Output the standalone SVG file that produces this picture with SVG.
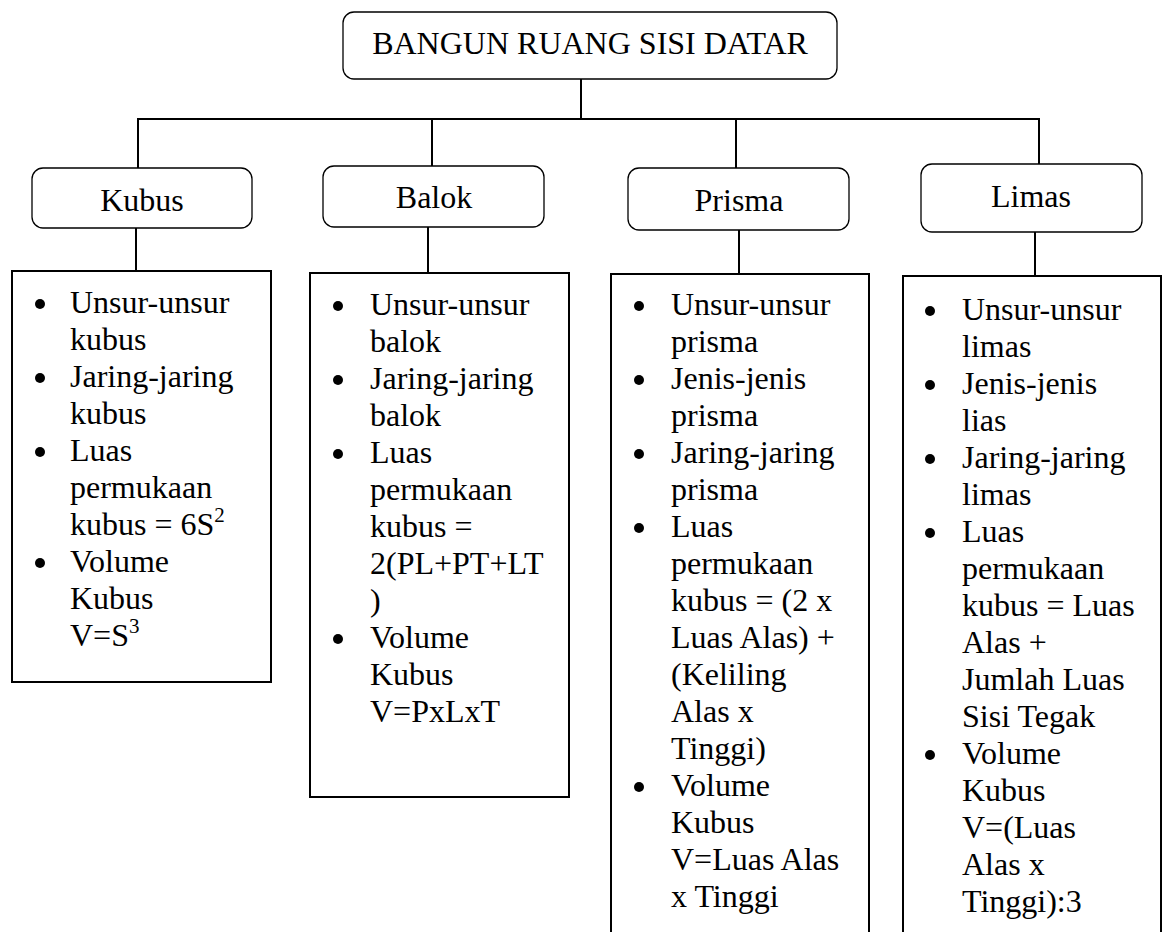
<svg xmlns="http://www.w3.org/2000/svg" width="1162" height="932" viewBox="0 0 1162 932">
<style>
  .rbox{fill:#fff;stroke:#000;stroke-width:1.3}
  .cbox{fill:#fff;stroke:#000;stroke-width:2}
  .conn{stroke:#000;stroke-width:2;fill:none}
  text{font-family:"Liberation Serif","Times New Roman",serif;font-size:32px;fill:#000}
  .c{text-anchor:middle}
  .sup{font-size:21px}
</style>
<rect width="1162" height="932" fill="#fff"/>
<g id="connectors">
  <line class="conn" x1="581" y1="79" x2="581" y2="119"/>
  <line class="conn" x1="137" y1="119" x2="1040" y2="119"/>
  <line class="conn" x1="138" y1="119" x2="138" y2="168"/>
  <line class="conn" x1="432" y1="119" x2="432" y2="166"/>
  <line class="conn" x1="736" y1="119" x2="736" y2="168"/>
  <line class="conn" x1="1039" y1="119" x2="1039" y2="164"/>
  <line class="conn" x1="136" y1="228" x2="136" y2="271"/>
  <line class="conn" x1="428" y1="227" x2="428" y2="273"/>
  <line class="conn" x1="739" y1="230" x2="739" y2="274"/>
  <line class="conn" x1="1035" y1="232" x2="1035" y2="276"/>
</g>
<g id="root">
  <rect class="rbox" x="343" y="12" width="494" height="67" rx="11"/>
  <text class="c" x="590" y="54">BANGUN RUANG SISI DATAR</text>
</g>
<g id="kubus">
  <rect class="rbox" x="32" y="168" width="220" height="60" rx="11"/>
  <text class="c" x="142" y="211">Kubus</text>
</g>
<g id="balok">
  <rect class="rbox" x="323" y="166" width="221" height="61" rx="11"/>
  <text class="c" x="434" y="208">Balok</text>
</g>
<g id="prisma">
  <rect class="rbox" x="628" y="168" width="221" height="62" rx="11"/>
  <text class="c" x="739" y="211">Prisma</text>
</g>
<g id="limas">
  <rect class="rbox" x="921" y="164" width="221" height="68" rx="11"/>
  <text class="c" x="1031" y="207">Limas</text>
</g>
<g id="kubus-detail">
  <rect class="cbox" x="12" y="271" width="259" height="411"/>
  <circle cx="40" cy="304" r="5"/><circle cx="40" cy="378" r="5"/><circle cx="40" cy="452" r="5"/><circle cx="40" cy="563" r="5"/>
  <text x="70" y="313">Unsur-unsur</text>
  <text x="70" y="350">kubus</text>
  <text x="70" y="387">Jaring-jaring</text>
  <text x="70" y="424">kubus</text>
  <text x="70" y="461">Luas</text>
  <text x="70" y="498">permukaan</text>
  <text x="70" y="535">kubus = 6S<tspan class="sup" dy="-13">2</tspan></text>
  <text x="70" y="572">Volume</text>
  <text x="70" y="609">Kubus</text>
  <text x="70" y="646">V=S<tspan class="sup" dy="-13">3</tspan></text>
</g>
<g id="balok-detail">
  <rect class="cbox" x="310" y="273" width="259" height="524"/>
  <circle cx="338" cy="306" r="5"/><circle cx="338" cy="380" r="5"/><circle cx="338" cy="454" r="5"/><circle cx="338" cy="639" r="5"/>
  <text x="370" y="315">Unsur-unsur</text>
  <text x="370" y="352">balok</text>
  <text x="370" y="389">Jaring-jaring</text>
  <text x="370" y="426">balok</text>
  <text x="370" y="463">Luas</text>
  <text x="370" y="500">permukaan</text>
  <text x="370" y="537">kubus =</text>
  <text x="370" y="574">2(PL+PT+LT</text>
  <text x="370" y="611">)</text>
  <text x="370" y="648">Volume</text>
  <text x="370" y="685">Kubus</text>
  <text x="370" y="722">V=PxLxT</text>
</g>
<g id="prisma-detail">
  <rect class="cbox" x="611" y="274" width="258" height="680"/>
  <circle cx="639" cy="306" r="5"/><circle cx="639" cy="380" r="5"/><circle cx="639" cy="454" r="5"/><circle cx="639" cy="528" r="5"/><circle cx="639" cy="787" r="5"/>
  <text x="671" y="315">Unsur-unsur</text>
  <text x="671" y="352">prisma</text>
  <text x="671" y="389">Jenis-jenis</text>
  <text x="671" y="426">prisma</text>
  <text x="671" y="463">Jaring-jaring</text>
  <text x="671" y="500">prisma</text>
  <text x="671" y="537">Luas</text>
  <text x="671" y="574">permukaan</text>
  <text x="671" y="611">kubus = (2 x</text>
  <text x="671" y="648">Luas Alas) +</text>
  <text x="671" y="685">(Keliling</text>
  <text x="671" y="722">Alas x</text>
  <text x="671" y="759">Tinggi)</text>
  <text x="671" y="796">Volume</text>
  <text x="671" y="833">Kubus</text>
  <text x="671" y="870">V=Luas Alas</text>
  <text x="671" y="907">x Tinggi</text>
</g>
<g id="limas-detail">
  <rect class="cbox" x="903" y="276" width="258" height="680"/>
  <circle cx="930" cy="311" r="5"/><circle cx="930" cy="385" r="5"/><circle cx="930" cy="459" r="5"/><circle cx="930" cy="533" r="5"/><circle cx="930" cy="755" r="5"/>
  <text x="962" y="320">Unsur-unsur</text>
  <text x="962" y="357">limas</text>
  <text x="962" y="394">Jenis-jenis</text>
  <text x="962" y="431">lias</text>
  <text x="962" y="468">Jaring-jaring</text>
  <text x="962" y="505">limas</text>
  <text x="962" y="542">Luas</text>
  <text x="962" y="579">permukaan</text>
  <text x="962" y="616">kubus = Luas</text>
  <text x="962" y="653">Alas +</text>
  <text x="962" y="690">Jumlah Luas</text>
  <text x="962" y="727">Sisi Tegak</text>
  <text x="962" y="764">Volume</text>
  <text x="962" y="801">Kubus</text>
  <text x="962" y="838">V=(Luas</text>
  <text x="962" y="875">Alas x</text>
  <text x="962" y="912">Tinggi):3</text>
</g>
</svg>
